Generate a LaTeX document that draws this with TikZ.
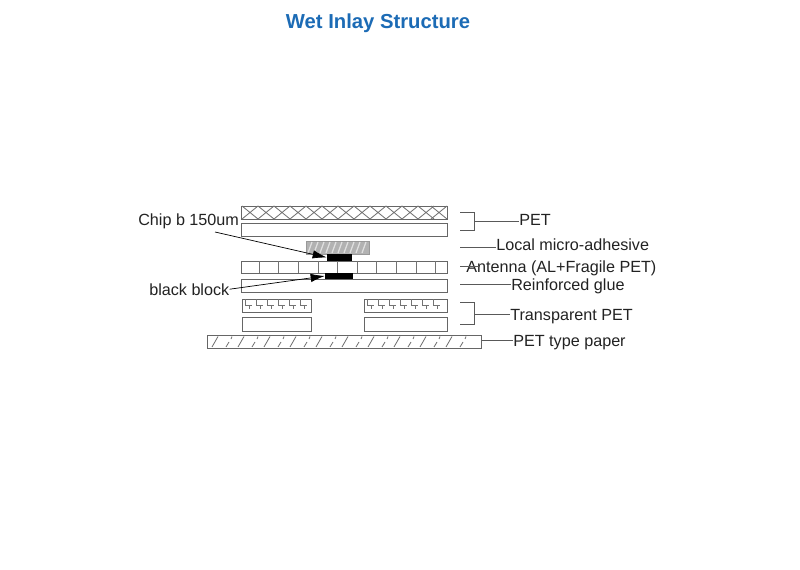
\documentclass[tikz,border=0pt]{standalone}
\usepackage{fontspec}
\setmainfont{Liberation Sans}
\usetikzlibrary{arrows.meta}
\definecolor{titleblue}{HTML}{1C6BB5}
\definecolor{textgray}{HTML}{222222}
\tikzset{
    layer/.style={draw=black!60, line width=0.7pt, inner sep=0pt},
    blackbar/.style={fill=black, inner sep=0pt},
    lbl/.style={anchor=base west, inner sep=0pt, text=textgray, font=\fontsize{11.5}{13}\selectfont},
    leader/.style={draw=black!65, line width=0.7pt},
    hatch/.style={draw=black!55, line width=0.6pt},
    pointer/.style={draw=black, line width=0.5pt, -{Latex[length=10pt,width=6pt]}}
}
\begin{document}
\begin{tikzpicture}[x=0.025cm,y=-0.025cm]
    \useasboundingbox (0,0) rectangle (800,570);

    \node[anchor=base, inner sep=0pt, text=titleblue, font=\fontsize{14.4}{16}\selectfont\bfseries] (title) at (378,29) {Wet Inlay Structure};

    % layers
    \node[layer, minimum width=5.125cm, minimum height=0.325cm] (petTop) at (344.5,212.5) {};
    \node[layer, minimum width=5.125cm, minimum height=0.325cm] (petPlain) at (344.5,229.5) {};
    \node[layer, draw=black!40, fill=gray!60, minimum width=1.575cm, minimum height=0.325cm] (adhesive) at (337.5,247.5) {};
    \node[layer, minimum width=5.125cm, minimum height=0.3cm] (antenna) at (344.5,267) {};
    \node[layer, minimum width=5.125cm, minimum height=0.325cm] (glue) at (344.5,285.5) {};
    \node[layer, minimum width=1.725cm, minimum height=0.325cm] (transLeftTop) at (276.5,305.5) {};
    \node[layer, minimum width=1.725cm, minimum height=0.35cm] (transLeftLow) at (276.5,324) {};
    \node[layer, minimum width=2.075cm, minimum height=0.325cm] (transRightTop) at (405.5,305.5) {};
    \node[layer, minimum width=2.075cm, minimum height=0.35cm] (transRightLow) at (405.5,324) {};
    \node[layer, minimum width=6.825cm, minimum height=0.325cm] (paper) at (344.5,341.5) {};
    \node[blackbar, minimum width=0.625cm, minimum height=0.175cm] (chip) at (339.5,257.5) {};
    \node[blackbar, minimum width=0.7cm, minimum height=0.16cm] (block) at (339,276) {};

    % hatching
    \foreach \x in {242,258,...,426}
        \draw[hatch] (\x,206) -- (\x+16,219) (\x,219) -- (\x+16,206);
    \draw[hatch] (431,219) -- (447,206) (431,206) -- (447,219);
    \foreach \x in {308,314,...,362}
        \draw[gray!25, line width=0.9pt] (\x,253) -- (\x+4,242);
    \foreach \x in {259.3,278.9,...,436}
        \draw[hatch] (\x,261) -- (\x,273);
    \foreach \x in {244,255,...,300}
        \draw[hatch] (\x+1,299) -- (\x+1,305) -- (\x+8,305) (\x+5,305) -- (\x+5,309);
    \foreach \x in {366,377,...,436}
        \draw[hatch] (\x+1,299) -- (\x+1,305) -- (\x+8,305) (\x+5,305) -- (\x+5,309);
    \foreach \x in {212,238,...,470}
        \draw[hatch] (\x,347) -- (\x+6,336.5);
    \foreach \x in {226,252,...,470}
        \draw[hatch] (\x,347) -- (\x+3,342) (\x+5,339) -- (\x+6,336.5);

    % labels
    \node[lbl] (petLabel) at (519,226) {PET};
    \node[lbl] (adhesiveLabel) at (496,250) {Local micro-adhesive};
    \node[lbl] (antennaLabel) at (466,272) {Antenna (AL+Fragile PET)};
    \node[lbl] (glueLabel) at (511,290) {Reinforced glue};
    \node[lbl] (transLabel) at (510,320) {Transparent PET};
    \node[lbl] (paperLabel) at (513,346) {PET type paper};
    \node[lbl] (chipLabel) at (138,226) {Chip b 150um};
    \node[lbl] (blockLabel) at (149,295) {black block};

    % leaders
    \coordinate (petBrace) at (474,221);
    \coordinate (transBrace) at (474,314);
    \coordinate (adhesiveEnd) at (460,247.5);
    \coordinate (antennaEnd) at (460,266);
    \coordinate (antennaTip) at (480,266);
    \coordinate (glueEnd) at (460,284.5);
    \coordinate (chipStart) at (215,232);
    \draw[leader] (460,212) -| (474,230) -- (460,230);
    \draw[leader] (petBrace) -- (petLabel.west |- petBrace);
    \draw[leader] (460,302) -| (474,324) -- (460,324);
    \draw[leader] (transBrace) -- (transLabel.west |- transBrace);
    \draw[leader] (adhesiveEnd) -- (adhesiveLabel.west |- adhesiveEnd);
    \draw[leader] (antennaEnd) -- (antennaTip);
    \draw[leader] (glueEnd) -- (glueLabel.west |- glueEnd);
    \draw[leader] (paper.east |- 0,340) -- (paperLabel.west |- 0,340);

    % arrows
    \draw[pointer] (chipStart) -- (chip.west);
    \draw[pointer] (blockLabel.east) -- (block.west);
\end{tikzpicture}
\end{document}
